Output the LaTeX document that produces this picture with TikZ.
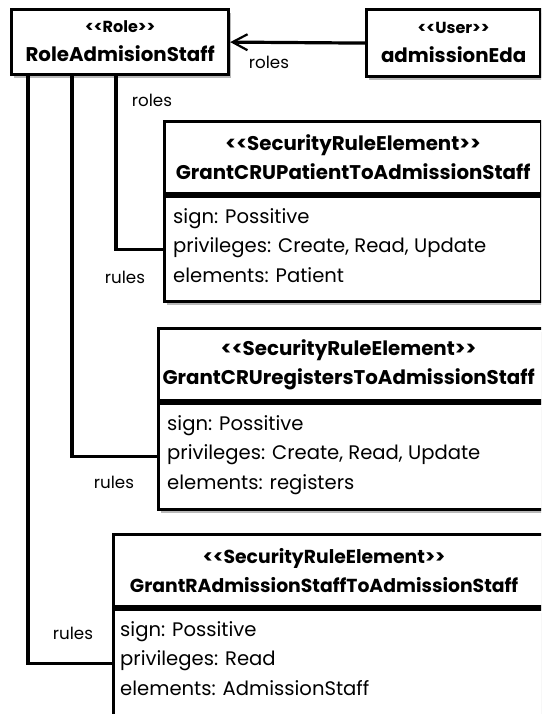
\documentclass[tikz,border=0pt]{standalone}
\usepackage{fontspec}
\setmainfont{Poppins}
\usetikzlibrary{shadows,arrows.meta,calc}

\tikzset{
  umlbox/.style={draw, line width=3.2pt, fill=white, anchor=north west, inner sep=0pt,
    drop shadow={shadow xshift=2pt, shadow yshift=-3pt, opacity=0.5, fill=black!55}},
  headtext/.style={align=center, font=\fontsize{19.8}{29}\selectfont\bfseries},
  bodytext/.style={align=left, anchor=north west, inner sep=0pt,
    font=\fontsize{19.6}{29.5}\selectfont},
  link/.style={line width=3.2pt},
  lbl/.style={font=\fontsize{16.7}{19}\selectfont, inner sep=0pt},
}

\begin{document}
\begin{tikzpicture}[x=1pt, y=-1pt]
  \useasboundingbox (0,0) rectangle (541,714);
  \clip (0,0) rectangle (541,714);

  % role and user
  \node[umlbox, minimum width=217pt, minimum height=65pt] (role) at (10,8) {};
  \node[headtext, align=center] (roletxt) at ($(role.center)+(0,-1)$)
    {{\fontsize{16}{27}\selectfont <{}<Role>{}>}\\RoleAdmisionStaff};

  \node[umlbox, minimum width=174pt, minimum height=67pt] (user) at (365,8) {};
  \node[headtext] (usertxt) at ($(user.center)+(0,-1)$)
    {{\fontsize{16}{27}\selectfont <{}<User>{}>}\\admissionEda};

  % first rule
  \node[umlbox, minimum width=377pt, minimum height=72pt] (h1) at (163,120) {};
  \node[headtext] (h1t) at (h1.center) {<{}<SecurityRuleElement>{}>\\GrantCRUPatientToAdmissionStaff};
  \node[umlbox, minimum width=377pt, minimum height=105pt] (b1) at (h1.south west) {};
  \node[bodytext] (b1t) at ($(b1.north west)+(10,13)$)
    {sign: Possitive\\privileges: Create, Read, Update\\elements: Patient};

  % second rule
  \node[umlbox, minimum width=386pt, minimum height=72pt] (h2) at (157,327) {};
  \node[headtext] (h2t) at ($(h2.center)+(-3,0)$) {<{}<SecurityRuleElement>{}>\\GrantCRUregistersToAdmissionStaff};
  \node[umlbox, minimum width=386pt, minimum height=106pt] (b2) at (h2.south west) {};
  \node[bodytext] (b2t) at ($(b2.north west)+(10,13)$)
    {sign: Possitive\\privileges: Create, Read, Update\\elements: registers};

  % third rule
  \node[umlbox, minimum width=431pt, minimum height=72pt] (h3) at (112,533) {};
  \node[headtext, font=\fontsize{18.8}{29}\selectfont\bfseries] (h3t) at ($(h3.center)+(-5,0)$) {<{}<SecurityRuleElement>{}>\\GrantRAdmissionStaffToAdmissionStaff};
  \node[umlbox, minimum width=431pt, minimum height=107pt] (b3) at (h3.south west) {};
  \node[bodytext] (b3t) at ($(b3.north west)+(8,13)$)
    {sign: Possitive\\privileges: Read\\elements: AdmissionStaff};

  % connectors
  \draw[link, -{Straight Barb[length=15pt, width=16pt, line width=2.2pt]}] (user.west) -- (role.east);
  \node[lbl] (lroles1) at (269,62) {roles};

  \coordinate (p1) at ($(role.south west)+(106,0)$);
  \coordinate (p2) at ($(role.south west)+(62,0)$);
  \coordinate (p3) at ($(role.south west)+(18,0)$);

  \draw[link] (p1) |- (b1.west);
  \draw[link] (p2) |- (b2.west);
  \draw[link] (p3) |- (b3.west);

  \node[lbl] (lroles2) at (152,100) {roles};
  \node[lbl] (lrules1) at (125,277) {rules};
  \node[lbl] (lrules2) at (114,482) {rules};
  \node[lbl] (lrules3) at (73,633) {rules};
\end{tikzpicture}
\end{document}
